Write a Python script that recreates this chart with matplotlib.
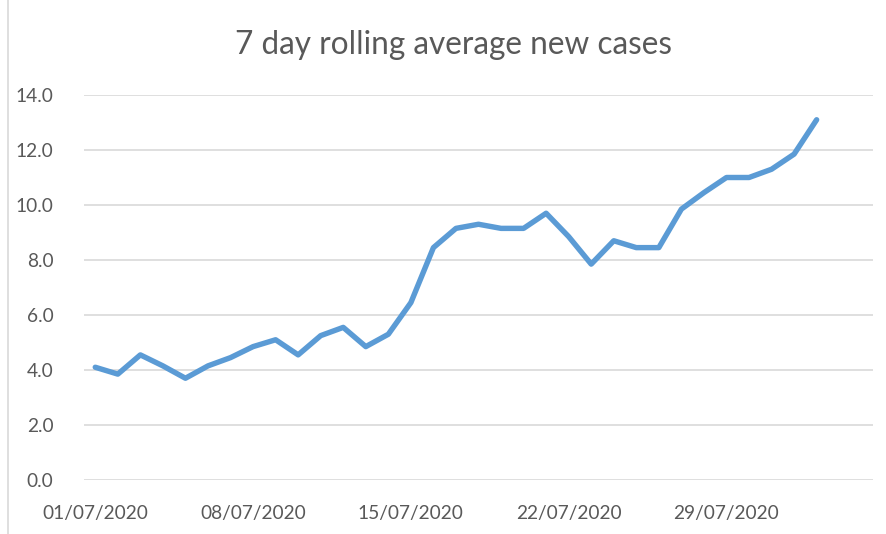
import matplotlib
matplotlib.use("Agg")
import matplotlib.pyplot as plt
from matplotlib.lines import Line2D

title = "7 day rolling average new cases"
# daily values, 01/07/2020 .. 02/08/2020
values = [4.1, 3.85, 4.55, 4.15, 3.7, 4.15, 4.45, 4.85, 5.1, 4.55,
          5.25, 5.55, 4.85, 5.3, 6.45, 8.45, 9.15, 9.3, 9.15, 9.15,
          9.7, 8.85, 7.85, 8.7, 8.45, 8.45, 9.85, 10.45, 11.0, 11.0,
          11.3, 11.85, 13.1]
days = list(range(len(values)))
xtick_pos = [0, 7, 14, 21, 28]
xtick_labels = ["01/07/2020", "08/07/2020", "15/07/2020", "22/07/2020", "29/07/2020"]
yticks = [0, 2, 4, 6, 8, 10, 12, 14]
ytick_labels = ["0.0", "2.0", "4.0", "6.0", "8.0", "10.0", "12.0", "14.0"]

plt.rcParams['font.family'] = ['Lato', 'DejaVu Sans']
txt = "#595959"

fig = plt.figure(figsize=(8.86, 5.34), dpi=100)
ax = fig.add_axes([84/886, 54/534, (873-84)/886, (480-95)/534])

ax.plot(days, values, color="#5B9BD5", linewidth=3.9, solid_capstyle="round",
        solid_joinstyle="round", zorder=3)

ax.set_xlim(-0.5, 34.5)
ax.set_ylim(0, 14)
ax.set_yticks(yticks)
ax.set_yticklabels(ytick_labels)
ax.set_xticks(xtick_pos)
ax.set_xticklabels(xtick_labels)
ax.tick_params(axis="both", length=0, labelsize=13.8, colors=txt)
ax.tick_params(axis="y", pad=22)
ax.tick_params(axis="x", pad=18)
ax.grid(axis="y", color="#D9D9D9", linewidth=1.2)
ax.set_axisbelow(True)
for s in ax.spines.values():
    s.set_visible(False)

fig.text(453/886, 1 - 45/534, title, ha="center", va="center",
         fontsize=22.7, color=txt)

fig.add_artist(Line2D([8/886, 8/886], [0, 1], transform=fig.transFigure,
                      color="#D9D9D9", linewidth=1.2))

fig.savefig("out.png", dpi=100)
